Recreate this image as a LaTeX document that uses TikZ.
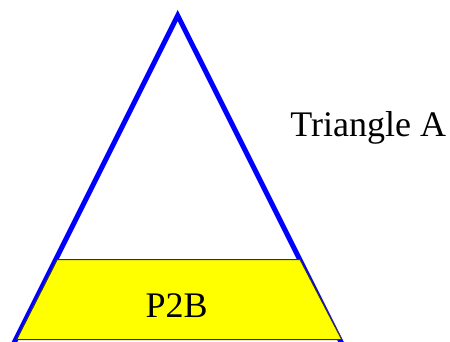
\documentclass[tikz,border=0pt]{standalone}
\usepackage{fontspec}
\setmainfont{Liberation Serif}
\definecolor{trapyellow}{RGB}{255,255,0}
\begin{document}
\begin{tikzpicture}[x=1pt,y=-1pt,
  tri/.style={draw=blue,line width=5pt,line join=miter},
  trap/.style={draw=black!80,line width=1pt,fill=trapyellow},
  lbl/.style={font=\fontsize{36}{42}\selectfont,inner sep=0pt,anchor=base}]
\useasboundingbox (0,0) rectangle (450,341);
\clip (0,0) rectangle (450,341);
\draw[tri] (177.7,15.5) -- (11.5,348) -- (344,348) -- cycle;
\draw[trap] (57.3,259.5) -- (300,259.5) -- (341.7,339.5) -- (16.7,339.5) -- cycle;
\node[lbl] (p2b) at (176.7,317) {P2B};
\node[lbl] (ta) at (368.3,136.7) {Triangle A};
\end{tikzpicture}
\end{document}
